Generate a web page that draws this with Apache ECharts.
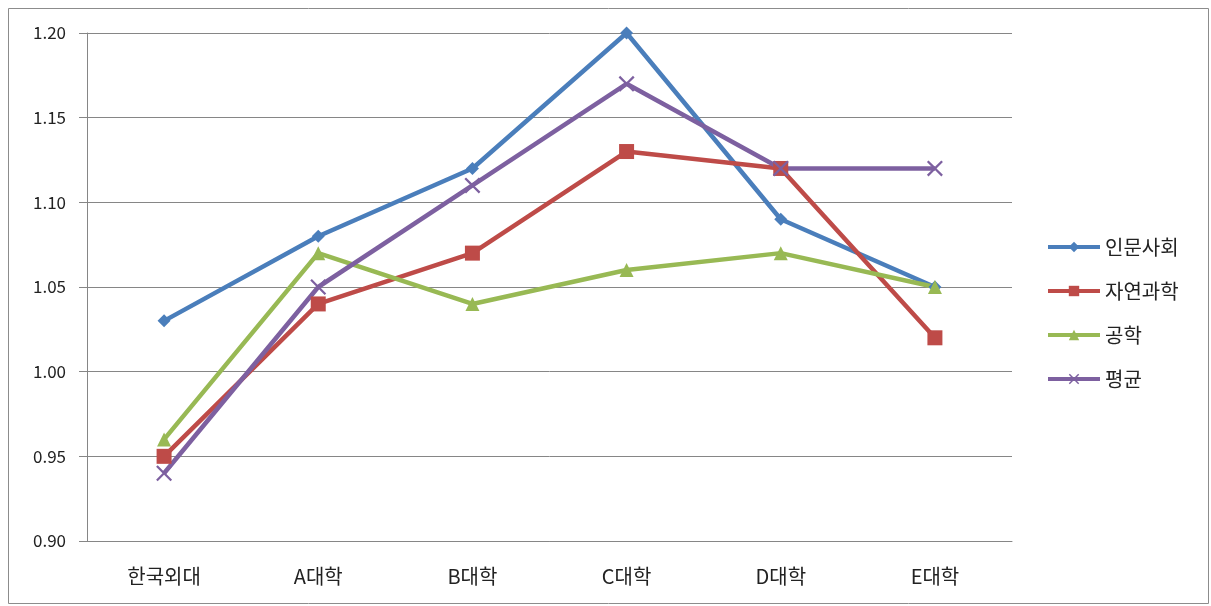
<!DOCTYPE html>
<html><head><meta charset="utf-8">
<script src="https://cdn.jsdelivr.net/npm/echarts@6/dist/echarts.min.js"></script>
<style>html,body{margin:0;padding:0;background:#fff}#c{width:1211px;height:606px}</style>
</head><body><div id="c"></div>
<script>
const categories = ['한국외대','A대학','B대학','C대학','D대학','E대학'];
const humanities = [1.03, 1.08, 1.12, 1.20, 1.09, 1.05];
const science = [0.95, 1.04, 1.07, 1.13, 1.12, 1.02];
const engineering = [0.96, 1.07, 1.04, 1.06, 1.07, 1.05];
const average = [0.94, 1.05, 1.11, 1.17, 1.12, 1.12];
const seriesNames = ['인문사회','자연과학','공학','평균'];

const font = '"Noto Sans CJK KR", "Noto Sans", sans-serif';
const xPath = 'path://M0,1L1,0L5,4L9,0L10,1L6,5L10,9L9,10L5,6L1,10L0,9L4,5Z';
const chart = echarts.init(document.getElementById('c'));
function mk(name, data, color, symbol, size) {
  return {
    name, type: 'line', data, symbol, symbolSize: size,
    lineStyle: {color, width: 4.5}, itemStyle: {color},
    emphasis: {disabled: true}, animation: false
  };
}
chart.setOption({
  backgroundColor: '#fff',
  animation: false,
  graphic: [{type: 'rect', shape: {x: 8.5, y: 8.5, width: 1200, height: 595}, style: {fill: 'none', stroke: '#8c8c8c', lineWidth: 1}}],
  grid: {left: 87, right: 199, top: 33, bottom: 65},
  legend: {
    orient: 'vertical', left: 1041, top: 232, itemGap: 24, itemWidth: 52, itemHeight: 13,
    lineStyle: {width: 4},
    textStyle: {fontFamily: font, fontSize: 20, color: '#222'},
    data: seriesNames
  },
  xAxis: {
    type: 'category', data: categories,
    axisLine: {lineStyle: {color: '#868686'}},
    axisTick: {length: 6, lineStyle: {color: '#868686'}},
    axisLabel: {fontFamily: font, fontSize: 20, color: '#222', margin: 25}
  },
  yAxis: {
    type: 'value', min: 0.90, max: 1.20, interval: 0.05,
    axisLine: {show: true, lineStyle: {color: '#868686'}},
    axisTick: {show: true, length: 8, lineStyle: {color: '#868686'}},
    splitLine: {lineStyle: {color: '#868686'}},
    axisLabel: {fontFamily: font, fontSize: 17, color: '#222', margin: 21, formatter: v => v.toFixed(2)}
  },
  series: [
    mk(seriesNames[0], humanities, '#4A7EBB', 'diamond', 13),
    mk(seriesNames[1], science, '#BE4B48', 'rect', 15),
    mk(seriesNames[2], engineering, '#98B954', 'triangle', 14),
    mk(seriesNames[3], average, '#7D60A0', xPath, 16)
  ]
});
</script></body></html>
